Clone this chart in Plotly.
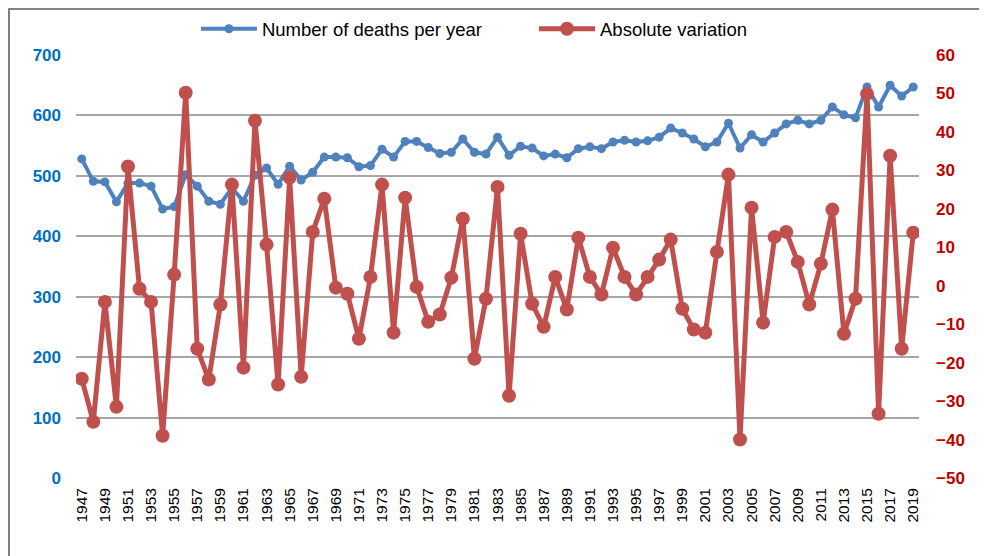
import plotly.graph_objects as go

years = list(range(1947, 2020))
deaths = [528, 491, 490, 457, 488, 488, 483, 445, 449, 502,
          483, 458, 453, 480, 458, 501, 513, 486, 516, 493,
          506, 531, 531, 530, 515, 517, 544, 531, 557, 557,
          547, 537, 539, 561, 539, 536, 564, 534, 549, 546,
          533, 536, 530, 545, 548, 545, 556, 559, 556, 558,
          564, 579, 571, 561, 548, 556, 587, 546, 568, 556,
          571, 586, 592, 586, 592, 614, 601, 596, 647, 614,
          650, 632, 647]
variation = [-24.2, -35.4, -4.2, -31.5, 31, -0.8, -4.2, -39, 2.9, 50.2,
             -16.4, -24.4, -4.9, 26.3, -21.3, 42.9, 10.7, -25.7, 28.1, -23.7,
             14, 22.6, -0.5, -2.1, -13.8, 2.3, 26.3, -12.2, 22.9, -0.3,
             -9.4, -7.5, 2.1, 17.4, -19, -3.4, 25.7, -28.6, 13.5, -4.7,
             -10.7, 2.3, -6.2, 12.5, 2.3, -2.3, 9.9, 2.3, -2.3, 2.3,
             6.8, 12, -6, -11.4, -12.2, 8.8, 28.9, -40, 20.3, -9.6,
             12.7, 14, 6.2, -4.9, 5.7, 19.8, -12.5, -3.4, 49.9, -33.3,
             33.8, -16.4, 13.8]
left_ticks = list(range(0, 701, 100))
right_ticks = list(range(-50, 61, 10))
x_ticks = list(range(1947, 2020, 2))

BLUE = "#4F81BD"
RED = "#C0504D"
FONT = "Liberation Sans"

fig = go.Figure()
fig.add_trace(go.Scatter(
    x=years, y=deaths, name="Number of deaths per year", mode="lines+markers",
    line=dict(color=BLUE, width=4), marker=dict(color=BLUE, size=9),
    yaxis="y", legend="legend"))
fig.add_trace(go.Scatter(
    x=years, y=variation, name="Absolute variation", mode="lines+markers",
    line=dict(color=RED, width=5), marker=dict(color=RED, size=14),
    yaxis="y2", legend="legend2"))

legend_common = dict(orientation="h", y=1.061, xanchor="left", yanchor="middle",
                     font=dict(family=FONT, size=18.5, color="black"),
                     itemwidth=56, bgcolor="rgba(0,0,0,0)")

fig.update_layout(
    width=987, height=556,
    margin=dict(l=68, r=76, t=47, b=86, autoexpand=False),
    paper_bgcolor="white", plot_bgcolor="white",
    font=dict(family=FONT, color="black"),
    showlegend=True,
    legend=dict(x=0.1423, **legend_common),
    legend2=dict(x=0.5433, **legend_common),
    xaxis=dict(range=[1946.5, 2019.5], tickvals=x_ticks, ticktext=[str(v) for v in x_ticks],
               tickangle=-90, tickfont=dict(family=FONT, size=15.5, color="black"),
               ticklabelstandoff=6,
               showgrid=False, zeroline=False, showline=False, ticks=""),
    yaxis=dict(range=[0, 700], tickvals=left_ticks, showgrid=True, gridcolor="#A6A6A6",
               gridwidth=1.5, zeroline=False, showline=False, ticks="",
               ticklabelstandoff=14,
               tickfont=dict(family=FONT, size=17, color="#0070C0", weight="bold")),
    yaxis2=dict(range=[-50, 60], tickvals=right_ticks, overlaying="y", side="right",
                showgrid=False, zeroline=False, showline=False, ticks="",
                ticklabelstandoff=16,
                tickfont=dict(family=FONT, size=17, color="#C00000", weight="bold")),
    shapes=[dict(type="rect", xref="paper", yref="paper", x0=-0.0795, x1=1.3,
                 y0=-0.5, y1=1.1087, line=dict(color="#595959", width=1.5),
                 fillcolor="rgba(0,0,0,0)", layer="below")],
)

fig.write_html("out.html")
